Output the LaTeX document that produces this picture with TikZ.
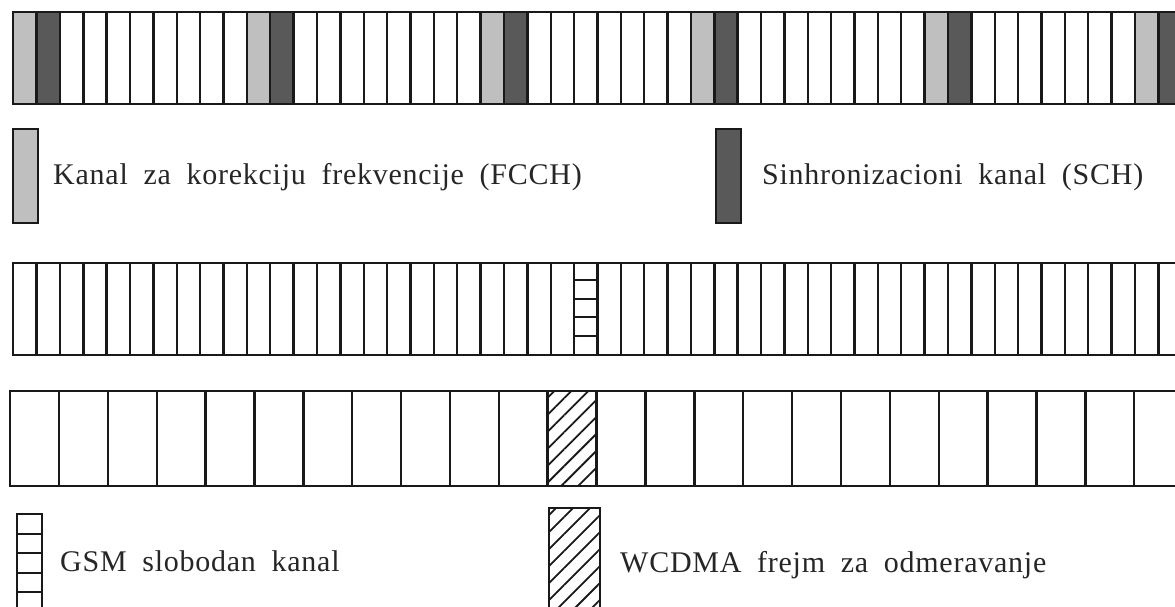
\documentclass[tikz,border=0pt]{standalone}
\usepackage{fontspec}
\setmainfont{Liberation Serif}
\newfontfamily\lblfont[LetterSpace=2.5, WordSpace=1.9]{Liberation Serif}
\usetikzlibrary{patterns.meta}

\begin{document}
\begin{tikzpicture}[x=1pt, y=-1pt,
  cell/.style={draw=black!90, line width=2.4pt, fill=white, minimum width=23.37pt, minimum height=92pt, inner sep=0pt, anchor=north west},
  fcch/.style={cell, fill=black!25},
  sch/.style={cell, fill=black!65},
  wcell/.style={cell, minimum width=48.87pt, minimum height=95pt},
  hatch/.style={pattern={Lines[angle=45, distance=12pt, line width=1.8pt]}, pattern color=black!90},
  key/.style={draw=black!90, line width=2.4pt, inner sep=0pt, anchor=north west},
  lbl/.style={anchor=base west, inner sep=0pt, font=\lblfont\fontsize{30}{33}\selectfont, text=black!85}]
\useasboundingbox (0,0) rectangle (1175,606);
% GSM multiframe
\foreach \i in {0,...,49}
  \node[cell] (t\i) at (12+\i*23.37, 11) {};
\foreach \i in {0,10,20,29,39,48}
  \node[fcch] (f\i) at (12+\i*23.37, 11) {};
\foreach \i in {1,11,21,30,40,49}
  \node[sch] (s\i) at (12+\i*23.37, 11) {};
% legenda 1
\node[key, fill=black!25, minimum width=25pt, minimum height=94pt] (kf) at (12,128) {};
\node[lbl] (lf) at (53,184) {Kanal za korekciju frekvencije (FCCH)};
\node[key, fill=black!65, minimum width=25pt, minimum height=94pt] (ks) at (715,128) {};
\node[lbl] (ls) at (762,184) {Sinhronizacioni kanal (SCH)};
% GSM okviri sa slobodnim kanalom
\foreach \i in {0,...,49}
  \node[cell] (m\i) at (12+\i*23.37, 262) {};
\foreach \k in {1,...,4}
  \draw[draw=black!90, line width=2pt] ([yshift=-\k*18.4pt]m24.north west) -- ([yshift=-\k*18.4pt]m24.north east);
% WCDMA okviri
\foreach \i in {0,...,23}
  \node[wcell] (w\i) at (9+\i*48.87, 390) {};
\node[wcell, hatch] (wh) at (9+11*48.87, 390) {};
% legenda 2
\foreach \k in {0,...,4}
  \node[key, minimum width=25pt, minimum height=19.5pt] (kg\k) at (16, 513+\k*19.5) {};
\node[lbl] (lg) at (60,571) {GSM slobodan kanal};
\node[key, hatch, minimum width=51pt, minimum height=105pt] (kw) at (548,507) {};
\node[lbl] (lw) at (620,572) {WCDMA frejm za odmeravanje};
\end{tikzpicture}
\end{document}
